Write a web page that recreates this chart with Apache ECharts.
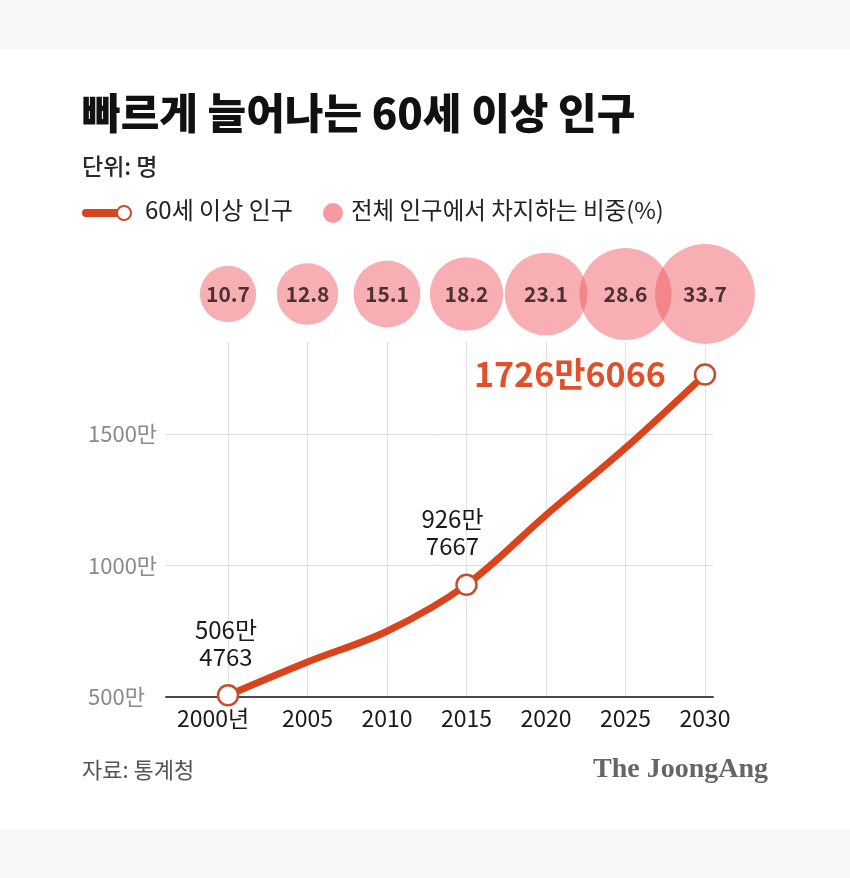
<!DOCTYPE html>
<html>
<head>
<meta charset="utf-8">
<script src="https://cdn.jsdelivr.net/npm/echarts@6/dist/echarts.min.js"></script>
<style>
  html, body { margin: 0; padding: 0; background: #fff; }
  #chart { width: 850px; height: 878px; }
</style>
</head>
<body>
<div id="chart"></div>
<script>
// 연도
var years = ['2000', '2005', '2010', '2015', '2020', '2025', '2030'];
var yearLabels = ['2000년', '2005', '2010', '2015', '2020', '2025', '2030'];
// 60세 이상 인구 (만 명)
var population = [506.4763, 633, 750, 926.7667, 1192, 1447, 1726.6066];
var pointLabels = ['506만\n4763', '', '', '926만\n7667', '', '', '1726만6066'];
// 전체 인구에서 차지하는 비중(%)
var share = [10.7, 12.8, 15.1, 18.2, 23.1, 28.6, 33.7];
var yTicks = [500, 1000, 1500];

var FONT = '"Noto Sans CJK KR", "Noto Sans", sans-serif';
var ORANGE = '#d9441d';
var PINK = 'rgba(238,88,96,0.6)';

var chart = echarts.init(document.getElementById('chart'));

var lineData = [];
for (var i = 0; i < population.length; i++) {
  var item = { value: population[i] };
  if (pointLabels[i] === '') {
    item.symbol = 'none';
  } else if (i === population.length - 1) {
    item.label = {
      show: true, position: 'left', distance: 28,
      formatter: pointLabels[i],
      fontFamily: FONT, fontSize: 34, fontWeight: 'bold', color: '#e0502a'
    };
  } else {
    item.label = {
      show: true, position: 'top', distance: 14,
      offset: [i === 0 ? -2 : -14, 0],
      formatter: pointLabels[i],
      fontFamily: FONT, fontSize: 24, lineHeight: 27, color: '#1a1a1a', align: 'center'
    };
  }
  lineData.push(item);
}

var bubbleData = share.map(function (v, i) { return [years[i], 1, v]; });

var option = {
  backgroundColor: '#fff',
  animation: false,
  grid: [
    // 가로 눈금선 + y축 라벨
    { left: 166, right: 137, top: 434, bottom: 181 },
    // 꺾은선
    { left: 228, right: 145, top: 342, bottom: 181 },
    // 비중 원
    { left: 228, right: 145, top: 244, height: 100 }
  ],
  xAxis: [
    {
      gridIndex: 0, type: 'value', min: 0, max: 1,
      axisLine: { show: true, lineStyle: { color: '#4a4a4a', width: 2 } },
      axisTick: { show: false }, axisLabel: { show: false }, splitLine: { show: false }
    },
    {
      gridIndex: 1, type: 'category', data: years, boundaryGap: false,
      axisLine: { show: false }, axisTick: { show: false },
      splitLine: { show: true, interval: 0, lineStyle: { color: '#e2e2e2', width: 1 } },
      axisLabel: {
        interval: 0, margin: 10, fontFamily: FONT, fontSize: 23, color: '#1a1a1a',
        formatter: function (v, idx) {
          if (idx === 0) return '{first|' + yearLabels[idx] + '}';
          return yearLabels[idx];
        },
        rich: {
          first: { fontFamily: FONT, fontSize: 23, color: '#1a1a1a', padding: [0, 30, 0, 0] }
        }
      }
    },
    {
      gridIndex: 2, type: 'category', data: years, boundaryGap: false, show: false
    }
  ],
  yAxis: [
    {
      gridIndex: 0, type: 'value', min: yTicks[0], max: yTicks[yTicks.length - 1], interval: 500,
      axisLine: { show: false }, axisTick: { show: false },
      splitLine: { lineStyle: { color: '#dcdcdc', width: 1 } },
      axisLabel: {
        align: 'left', margin: 78, fontFamily: FONT, fontSize: 22, color: '#8a8a8a',
        formatter: function (v) { return v + '만'; }
      }
    },
    { gridIndex: 1, type: 'value', min: 500, max: 1850, show: false },
    { gridIndex: 2, type: 'value', min: 0, max: 2, show: false }
  ],
  series: [
    {
      name: '전체 인구에서 차지하는 비중(%)',
      type: 'scatter', xAxisIndex: 2, yAxisIndex: 2,
      data: bubbleData,
      symbolSize: function (d) { return 17.2 * Math.sqrt(d[2]); },
      itemStyle: { color: PINK },
      label: {
        show: true, position: 'inside',
        formatter: function (p) { return p.value[2].toFixed(1); },
        fontFamily: FONT, fontSize: 21, fontWeight: 'bold', color: '#241010'
      },
      z: 3
    },
    {
      name: '60세 이상 인구',
      type: 'line', xAxisIndex: 1, yAxisIndex: 1,
      data: lineData,
      smooth: 0.35,
      symbol: 'circle', symbolSize: 20,
      lineStyle: { color: ORANGE, width: 7 },
      itemStyle: { color: '#fff', borderColor: '#c0502e', borderWidth: 2.5 },
      z: 4
    }
  ],
  graphic: [
    // 위아래 회색 띠
    { type: 'rect', shape: { x: 0, y: 0, width: 850, height: 49 }, style: { fill: '#f7f7f7' } },
    { type: 'rect', shape: { x: 0, y: 829, width: 850, height: 49 }, style: { fill: '#f7f7f7' } },
    {
      type: 'text', left: 82, top: 92,
      style: { text: '빠르게 늘어나는 60세 이상 인구', font: '900 42px ' + FONT, fill: '#111' }
    },
    {
      type: 'text', left: 82, top: 155,
      style: { text: '단위: 명', font: '500 23px ' + FONT, fill: '#2b2b2b' }
    },
    // 범례
    { type: 'rect', shape: { x: 82, y: 209, width: 40, height: 8, r: 4 }, style: { fill: ORANGE } },
    { type: 'circle', shape: { cx: 124, cy: 213, r: 7 }, style: { fill: '#fff', stroke: '#c0502e', lineWidth: 2 } },
    {
      type: 'text', left: 145, top: 198,
      style: { text: '60세 이상 인구', font: '24px ' + FONT, fill: '#222' }
    },
    { type: 'circle', shape: { cx: 333, cy: 213, r: 10 }, style: { fill: PINK } },
    {
      type: 'text', left: 351, top: 198,
      style: { text: '전체 인구에서 차지하는 비중(%)', font: '23.5px ' + FONT, fill: '#222' }
    },
    // 출처
    {
      type: 'text', left: 82, top: 759,
      style: { text: '자료: 통계청', font: '22px ' + FONT, fill: '#555' }
    },
    {
      type: 'text', right: 82, top: 756,
      style: { text: 'The JoongAng', font: 'bold 28px "Liberation Serif", "DejaVu Serif", serif', fill: '#666' }
    }
  ]
};

chart.setOption(option);
</script>
</body>
</html>
